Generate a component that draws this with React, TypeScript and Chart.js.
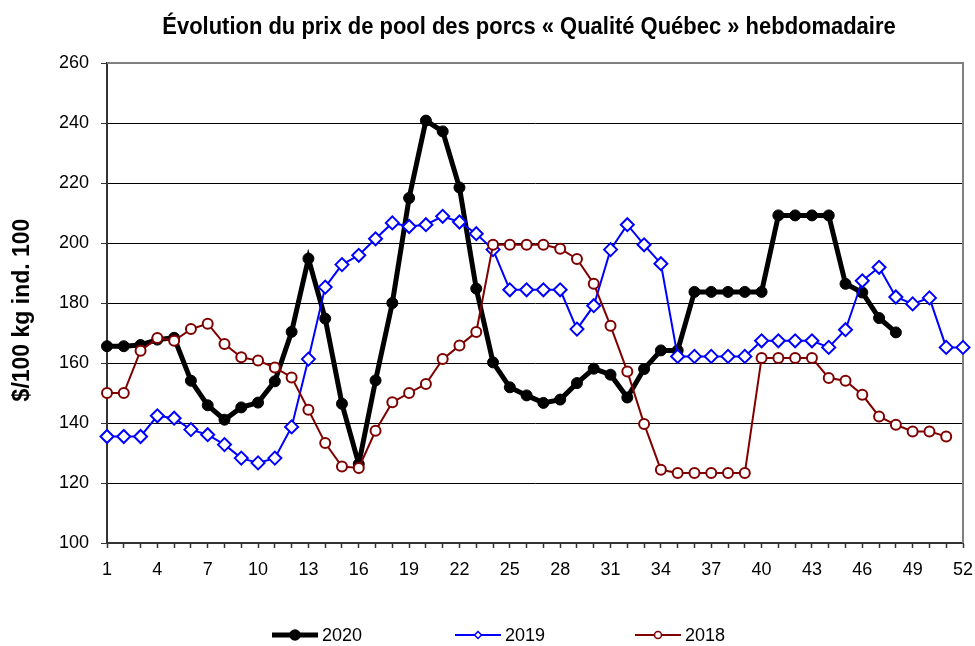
import React, { useEffect, useRef } from 'react';
import { Chart, registerables } from 'chart.js';

Chart.register(...registerables);

const weeks = ['1','2','3','4','5','6','7','8','9','10','11','12','13','14','15','16','17','18','19','20','21','22','23','24','25','26','27','28','29','30','31','32','33','34','35','36','37','38','39','40','41','42','43','44','45','46','47','48','49','50','51','52'];
const shownWeekLabels = ['1','4','7','10','13','16','19','22','25','28','31','34','37','40','43','46','49','52'];

const prices2020 = [165.6,165.6,166,167.8,168.4,154.1,145.9,141.1,145.2,146.8,153.9,170.4,194.8,174.8,146.4,126.3,154.2,180,215,240.8,237.2,218.5,184.8,160.2,151.9,149.2,146.7,147.8,153.3,158.1,156.1,148.5,158,164.2,164.2,183.7,183.7,183.7,183.7,183.7,209.2,209.2,209.2,209.2,186.4,183.5,175,170.2,null,null,null,null];
const prices2019 = [135.5,135.5,135.5,142.4,141.6,137.8,136.1,132.8,128.3,126.7,128.3,138.7,161.3,185.3,192.8,195.9,201.4,206.7,205.5,206.1,208.9,207,203.1,197.8,184.4,184.4,184.4,184.4,171.3,179.1,197.8,206.1,199.4,193.1,162.2,162.2,162.2,162.2,162.2,167.4,167.4,167.4,167.4,165.2,171.1,187.4,191.9,182,179.7,181.7,165.2,165.2];
const prices2018 = [150,150,164.1,168.3,167.4,171.3,173.1,166.3,161.9,160.8,158.5,155.2,144.4,133.3,125.5,125,137.4,146.9,150,153,161.3,165.8,170.3,199.4,199.4,199.4,199.4,198.1,194.7,186.4,172.4,157.2,139.7,124.4,123.3,123.3,123.3,123.3,123.3,161.7,161.7,161.7,161.7,155,154.1,149.4,142.2,139.4,137.2,137.2,135.5,null];

const seriesNames = ['2020', '2019', '2018'];
const yMin = 100;
const yMax = 260;
const yStep = 20;

const titleText = 'Évolution du prix de pool des porcs « Qualité Québec » hebdomadaire';
const yTitleText = '$/100 kg ind. 100';

const SANS = '"Liberation Sans", Arial, sans-serif';

const framePlugin = {
  id: 'frame',
  beforeDatasetsDraw(chart: any) {
    const { ctx, chartArea: a } = chart;
    ctx.save();
    ctx.strokeStyle = '#808080';
    ctx.lineWidth = 2;
    ctx.beginPath();
    ctx.moveTo(a.left, a.top);
    ctx.lineTo(a.right, a.top);
    ctx.lineTo(a.right, a.bottom);
    ctx.stroke();
    ctx.restore();
  },
};

const titlesPlugin = {
  id: 'customTitles',
  afterDraw(chart: any) {
    const { ctx, chartArea: a } = chart;
    ctx.save();
    ctx.font = `bold 24px ${SANS}`;
    ctx.fillStyle = '#000';
    ctx.textAlign = 'center';
    ctx.textBaseline = 'middle';
    ctx.translate(529, 27);
    ctx.scale(0.915, 1);
    ctx.fillText(titleText, 0, 0);
    ctx.restore();
    ctx.save();
    ctx.font = `bold 23px ${SANS}`;
    ctx.fillStyle = '#000';
    ctx.textAlign = 'center';
    ctx.textBaseline = 'middle';
    ctx.translate(23, (a.top + a.bottom) / 2 + 7);
    ctx.rotate(-Math.PI / 2);
    ctx.fillText(yTitleText, 0, 0);
    ctx.restore();
  },
};

const legendPlugin = {
  id: 'customLegend',
  afterDraw(chart: any) {
    const { ctx } = chart;
    const y = 635;
    const starts = [272, 455, 635];
    const lineLen = 46;
    ctx.save();
    chart.data.datasets.forEach((ds: any, i: number) => {
      const x0 = starts[i];
      ctx.strokeStyle = ds.borderColor;
      ctx.lineWidth = i === 0 ? 5 : 2;
      ctx.beginPath();
      ctx.moveTo(x0, y);
      ctx.lineTo(x0 + lineLen, y);
      ctx.stroke();
      const cx = x0 + lineLen / 2;
      ctx.lineWidth = 1.5;
      ctx.fillStyle = ds.pointBackgroundColor;
      ctx.strokeStyle = ds.pointBorderColor;
      ctx.beginPath();
      if (ds.pointStyle === 'rectRot') {
        const r = 3.5;
        ctx.moveTo(cx, y - r);
        ctx.lineTo(cx + r, y);
        ctx.lineTo(cx, y + r);
        ctx.lineTo(cx - r, y);
        ctx.closePath();
      } else {
        ctx.arc(cx, y, i === 0 ? 5 : 3.5, 0, Math.PI * 2);
      }
      ctx.fill();
      ctx.stroke();
      ctx.fillStyle = '#000';
      ctx.font = `18px ${SANS}`;
      ctx.textAlign = 'left';
      ctx.textBaseline = 'middle';
      ctx.fillText(ds.label, x0 + lineLen + 4, y + 1);
    });
    ctx.restore();
  },
};

export default function App() {
  const canvasRef = useRef<HTMLCanvasElement | null>(null);

  useEffect(() => {
    if (!canvasRef.current) return;
    const chart = new Chart(canvasRef.current, {
      type: 'line',
      data: {
        labels: weeks,
        datasets: [
          {
            label: seriesNames[0],
            data: prices2020,
            borderColor: '#000000',
            backgroundColor: '#000000',
            borderWidth: 5,
            pointStyle: 'circle',
            pointRadius: 5.5,
            pointBackgroundColor: '#000000',
            pointBorderColor: '#000000',
            pointBorderWidth: 1,
            tension: 0,
            order: 3,
          },
          {
            label: seriesNames[1],
            data: prices2019,
            borderColor: '#0000ff',
            backgroundColor: '#ffffff',
            borderWidth: 2,
            pointStyle: 'rectRot',
            pointRadius: 6.5,
            pointBackgroundColor: '#ffffff',
            pointBorderColor: '#0000ff',
            pointBorderWidth: 2,
            tension: 0,
            order: 2,
          },
          {
            label: seriesNames[2],
            data: prices2018,
            borderColor: '#800000',
            backgroundColor: '#ffffff',
            borderWidth: 2,
            pointStyle: 'circle',
            pointRadius: 5,
            pointBackgroundColor: '#ffffff',
            pointBorderColor: '#800000',
            pointBorderWidth: 2,
            tension: 0,
            order: 1,
          },
        ],
      },
      options: {
        animation: false,
        responsive: true,
        maintainAspectRatio: false,
        devicePixelRatio: 1,
        layout: { padding: { top: 63, right: 12, bottom: 63, left: 0 } },
        plugins: {
          legend: { display: false },
          title: { display: false },
          tooltip: { enabled: false },
        },
        scales: {
          x: {
            type: 'category',
            offset: false,
            grid: {
              drawOnChartArea: false,
              drawTicks: true,
              tickLength: 5,
              tickColor: '#333333',
              tickWidth: 1.5,
              offset: false,
            },
            border: { color: '#333333', width: 2 },
            ticks: {
              autoSkip: false,
              maxRotation: 0,
              minRotation: 0,
              padding: 11,
              color: '#000000',
              font: { family: SANS, size: 18 },
              callback: (v: any, i: number) => (shownWeekLabels.includes(weeks[i]) ? weeks[i] : ''),
            },
            afterFit: (s: any) => {
              s.height = 40;
              s.paddingLeft = 0;
              s.paddingRight = 0;
            },
          },
          y: {
            min: yMin,
            max: yMax,
            grid: {
              color: '#000000',
              lineWidth: 1,
              tickLength: 6,
              tickColor: '#333333',
            },
            border: { color: '#333333', width: 2 },
            ticks: {
              stepSize: yStep,
              padding: 12,
              color: '#000000',
              font: { family: SANS, size: 18 },
            },
            afterFit: (s: any) => {
              s.width = 107;
              s.paddingTop = 0;
              s.paddingBottom = 0;
            },
          },
        },
      },
      plugins: [framePlugin, titlesPlugin, legendPlugin],
    } as any);
    return () => chart.destroy();
  }, []);

  return (
    <div style={{ position: 'fixed', left: 0, top: 0, width: 975, height: 646, background: '#fff' }}>
      <canvas ref={canvasRef} />
    </div>
  );
}
